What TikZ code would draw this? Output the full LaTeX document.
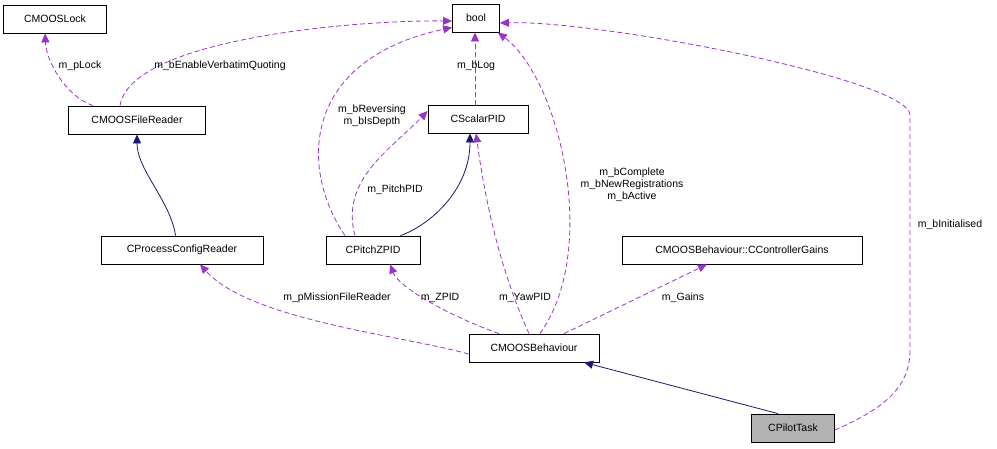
\documentclass[tikz,border=0pt]{standalone}
\usepackage{fontspec}
\setmainfont{Liberation Sans}
\usetikzlibrary{arrows.meta}
\definecolor{pur}{HTML}{9A32CD}
\definecolor{nav}{HTML}{191970}
\begin{document}
\begin{tikzpicture}[x=1pt,y=-1pt,
 box/.style={draw,thick,fill=white,minimum height=28pt,inner sep=0pt,font=\fontsize{10.5}{12}\selectfont},
 use/.style={draw=pur,color=pur,dashed,thick,dash pattern=on 5pt off 3pt,-{Triangle[length=9pt,width=8pt,fill=pur]}},
 inh/.style={nav,thick,-{Triangle[length=9pt,width=8pt]}},
 lab/.style={font=\fontsize{10.5}{12}\selectfont,black,align=center,inner sep=1pt}]
\useasboundingbox (0,0) rectangle (997,448);
\node[box,minimum width=103pt] (lock) at (55,19) {CMOOSLock};
\node[box,minimum width=47pt] (bool) at (476,18) {bool};
\node[box,minimum width=137pt] (fr) at (137,120) {CMOOSFileReader};
\node[box,minimum width=100pt] (spid) at (478,119) {CScalarPID};
\node[box,minimum width=162pt] (pcr) at (182,250) {CProcessConfigReader};
\node[box,minimum width=94pt] (pz) at (373,250) {CPitchZPID};
\node[box,minimum width=240pt] (cg) at (742,250) {CMOOSBehaviour::CControllerGains};
\node[box,minimum width=130pt] (mb) at (534,348) {CMOOSBehaviour};
\node[box,minimum width=83pt,fill=gray!60] (pt) at (793,428) {CPilotTask};

\draw[use] ([xshift=25pt]fr.north west) .. controls (65,96) and (46,60) .. ([xshift=42pt]lock.south west);
\node[lab] at (80,66) {m\_pLock};
\draw[use] ([xshift=52pt]fr.north west) .. controls (130,40) and (350,20) .. ([yshift=-3pt]bool.west);
\node[lab] at (220,66) {m\_bEnableVerbatimQuoting};
\draw[inh] ([xshift=75pt]pcr.north west) .. controls (170,200) and (137,170) .. (fr.south);
\draw[inh] ([xshift=-20pt]pz.north east) .. controls (430,225) and (470,190) .. ([xshift=-8pt]spid.south);
\draw[use] ([xshift=-18pt]pz.north) .. controls (340,180) and (390,150) .. ([yshift=8pt]spid.west);
\node[lab] at (395,190) {m\_PitchPID};
\draw[use] ([xshift=-28pt]pz.north) .. controls (300,170) and (300,60) .. ([yshift=5pt]bool.south west);
\node[lab] at (372,116) {m\_bReversing\\m\_bIsDepth};
\draw[use,draw=pur] ([xshift=-3pt]spid.north) -- ([xshift=-1pt]bool.south);
\node[lab] at (476,66) {m\_bLog};
\draw[use] ([yshift=-6pt]mb.west) .. controls (400,335) and (250,320) .. ([xshift=18pt]pcr.south);
\node[lab] at (337,298) {m\_pMissionFileReader};
\draw[use] ([xshift=-35pt]mb.north) .. controls (460,320) and (400,290) .. ([xshift=17pt]pz.south);
\node[lab] at (440,298) {m\_ZPID};
\draw[use] ([xshift=-5pt]mb.north) .. controls (500,270) and (485,200) .. ([xshift=-2pt]spid.south);
\node[lab] at (525,298) {m\_YawPID};
\draw[use] ([xshift=6pt]mb.north) .. controls (600,250) and (560,80) .. ([xshift=-2pt]bool.south east);
\node[lab] at (632,185) {m\_bComplete\\m\_bNewRegistrations\\m\_bActive};
\draw[use] ([xshift=30pt]mb.north) -- ([xshift=-35pt]cg.south);
\node[lab] at (683,298) {m\_Gains};
\draw[inh] ([xshift=-15pt]pt.north) -- ([xshift=50pt]mb.south);
\draw[use] ([yshift=-2pt]pt.east) .. controls (880,410) and (910,390) .. (910,350) -- (910,115) .. controls (910,80) and (600,20) .. ([yshift=-5pt]bool.east);
\node[lab,fill=white] at (950,225) {m\_bInitialised};
\end{tikzpicture}
\end{document}
